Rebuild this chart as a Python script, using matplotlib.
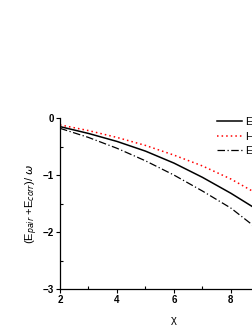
import numpy as np
import matplotlib.pyplot as plt
from matplotlib.ticker import MultipleLocator

plt.rcParams['font.family'] = ['Liberation Sans', 'DejaVu Sans']

# values
chi = [2, 3, 4, 5, 6, 7, 8, 9]
e_solid = [-0.15, -0.27, -0.41, -0.58, -0.79, -1.04, -1.32, -1.63]
e_dotted = [-0.12, -0.22, -0.34, -0.48, -0.65, -0.84, -1.07, -1.35]
e_dashdot = [-0.18, -0.34, -0.53, -0.75, -1.00, -1.28, -1.58, -1.97]
labels = ['Exact', 'HFB', 'ERPA']

fig = plt.figure(figsize=(2.53, 3.27), dpi=100)
# the axes run past the right edge of the figure, as in the reference
ax = fig.add_axes([0.237, 0.116, 0.901, 0.523])

ax.plot(chi, e_solid, color='black', lw=1.1, label=labels[0])
ax.plot(chi, e_dotted, color='red', lw=1.1, ls=(0, (1, 2)), label=labels[1])
ax.plot(chi, e_dashdot, color='black', lw=0.9, ls=(0, (6, 2, 1, 2)), label=labels[2])

ax.set_xlim(2, 10)
ax.set_ylim(-3, 0)
ax.xaxis.set_major_locator(MultipleLocator(2))
ax.xaxis.set_minor_locator(MultipleLocator(1))
ax.yaxis.set_major_locator(MultipleLocator(1))
ax.yaxis.set_minor_locator(MultipleLocator(0.5))
ax.tick_params(which='major', direction='out', length=3, width=0.8, labelsize=7, pad=1.5)
ax.tick_params(which='minor', direction='in', length=2, width=0.8)
for s in ['top', 'right']:
	ax.spines[s].set_visible(False)
for s in ['left', 'bottom']:
	ax.spines[s].set_linewidth(0.9)
for lab in ax.get_xticklabels() + ax.get_yticklabels():
	lab.set_fontweight('bold')

ax.set_xlabel('\u03c7', fontsize=8, labelpad=7)
ax.set_ylabel(r'(E$_{pair}$ +E$_{corr}$)/ $\omega$', fontsize=8, labelpad=2)

ax.legend(loc='upper left', bbox_to_anchor=(0.669, 1.03), borderaxespad=0, frameon=False,
		  fontsize=8, handlelength=2.3, handletextpad=0.2, labelspacing=0.38)

fig.savefig('out.png', dpi=100)
